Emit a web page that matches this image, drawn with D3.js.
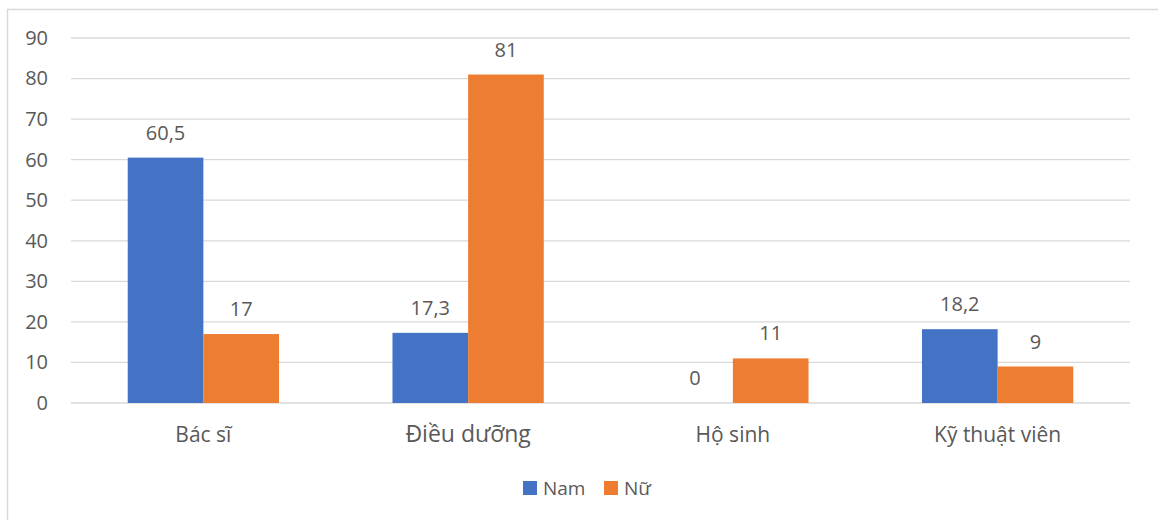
<!DOCTYPE html>
<html>
<head>
<meta charset="utf-8">
<script src="https://cdn.jsdelivr.net/npm/d3@7"></script>
<style>
  html, body { margin: 0; padding: 0; background: #fff; }
  svg text { font-family: "Open Sans", "Noto Sans", sans-serif; fill: #595959; }
</style>
</head>
<body>
<svg id="chart" width="1158" height="520"></svg>
<script>
// Nhân lực y tế theo giới tính (%)
const categories = ["Bác sĩ", "Điều dưỡng", "Hộ sinh", "Kỹ thuật viên"];
const seriesNames = ["Nam", "Nữ"];
const namValues = [60.5, 17.3, 0, 18.2];
const nuValues = [17, 81, 11, 9];
const yTicks = [0, 10, 20, 30, 40, 50, 60, 70, 80, 90];
const colors = ["#4472C4", "#ED7D31"];

const svg = d3.select("#chart");

// outer chart frame
svg.append("rect")
  .attr("x", 7.5).attr("y", 9.5)
  .attr("width", 1200).attr("height", 600)
  .attr("fill", "none").attr("stroke", "#D9D9D9").attr("stroke-width", 1.5);

const plot = { left: 71, right: 1130, top: 38, bottom: 403 };

const y = d3.scaleLinear().domain([0, 90]).range([plot.bottom, plot.top]);
const x0 = d3.scaleBand().domain(categories).range([plot.left, plot.right]).padding(0);
const x1 = d3.scaleBand().domain(seriesNames).range([0, x0.bandwidth()])
  .paddingInner(0).paddingOuter(0.75);

// gridlines
svg.append("g")
  .selectAll("line").data(yTicks).join("line")
  .attr("x1", plot.left).attr("x2", plot.right)
  .attr("y1", d => y(d)).attr("y2", d => y(d))
  .attr("stroke", "#D9D9D9").attr("stroke-width", 1.3);

// y axis labels
const yAxis = d3.axisLeft(y).tickValues(yTicks).tickSize(0).tickPadding(0);
const yg = svg.append("g").attr("transform", `translate(48,0)`).call(yAxis);
yg.select(".domain").remove();
yg.selectAll("text").attr("font-size", 20).attr("fill", "#595959")
  .style("font-family", "\"Open Sans\", sans-serif");

const rows = categories.map((c, i) => ({ cat: c, vals: [namValues[i], nuValues[i]] }));

const fmt = v => String(v).replace(".", ",");

const groups = svg.append("g").selectAll("g").data(rows).join("g")
  .attr("transform", d => `translate(${x0(d.cat)},0)`);

groups.selectAll("rect")
  .data(d => d.vals.map((v, j) => ({ s: seriesNames[j], v, j })))
  .join("rect")
  .attr("x", d => x1(d.s))
  .attr("width", x1.bandwidth())
  .attr("y", d => y(d.v))
  .attr("height", d => y(0) - y(d.v))
  .attr("fill", d => colors[d.j]);

groups.selectAll("text.val")
  .data(d => d.vals.map((v, j) => ({ s: seriesNames[j], v, j })))
  .join("text")
  .attr("class", "val")
  .attr("x", d => x1(d.s) + x1.bandwidth() / 2)
  .attr("y", d => y(d.v) - 18)
  .attr("text-anchor", "middle")
  .attr("font-size", 20)
  .text(d => fmt(d.v));

// category labels
svg.append("g").selectAll("text").data(categories).join("text")
  .attr("x", d => x0(d) + x0.bandwidth() / 2)
  .attr("y", 442)
  .attr("text-anchor", "middle")
  .attr("font-size", d => d === "Điều dưỡng" ? 23 : 21)
  .text(d => d);

// legend
const legendItems = [
  { name: seriesNames[0], color: colors[0], x: 523 },
  { name: seriesNames[1], color: colors[1], x: 604 }
];
const lg = svg.append("g").selectAll("g").data(legendItems).join("g")
  .attr("transform", d => `translate(${d.x},481)`);
lg.append("rect").attr("width", 14).attr("height", 14).attr("fill", d => d.color);
lg.append("text").attr("x", 20).attr("y", 14).attr("font-size", 19).text(d => d.name);
</script>
</body>
</html>
